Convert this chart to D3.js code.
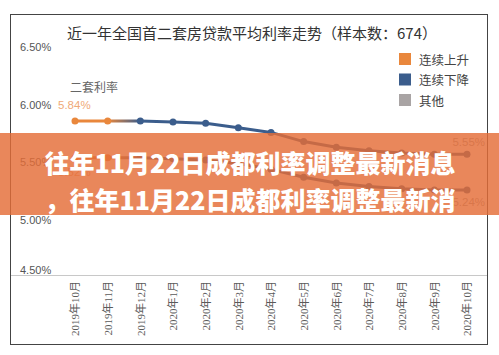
<!DOCTYPE html>
<html><head><meta charset="utf-8">
<script src="https://cdn.jsdelivr.net/npm/d3@7"></script>
<style>html,body{margin:0;padding:0;background:#fff;}svg{display:block;}</style>
</head><body>
<script>
const months = ["2019年10月","2019年11月","2019年12月","2020年1月","2020年2月","2020年3月","2020年4月","2020年5月","2020年6月","2020年7月","2020年8月","2020年9月","2020年10月"];
const secondRate = [5.84,5.84,5.84,5.83,5.82,5.78,5.74,5.66,5.61,5.58,5.56,5.55,5.55];
const firstRate  = [5.52,5.52,5.52,5.51,5.50,5.47,5.42,5.35,5.30,5.27,5.25,5.24,5.24];
const yTicks = [4.5,5.0,5.5,6.0,6.5];
const legendLabels = ["连续上升","连续下降","其他"];
const titleText = "近一年全国首二套房贷款平均利率走势（样本数：674）";
const seriesLabel = "二套利率";
const bannerLines = ["往年11月22日成都利率调整最新消息","，往年11月22日成都利率调整最新消"];

const W = 499, H = 355;
const ORANGE = "#e9873c", BLUE = "#3b5d8c", GRAY = "#a9a4a4";
const legendColors = [ORANGE, BLUE, GRAY];
const CJK = "'Noto Sans CJK SC', 'Noto Sans', sans-serif";

const svg = d3.select("body").append("svg").attr("width", W).attr("height", H);

const x = d3.scalePoint().domain(months).range([75, 467]);
const y = d3.scaleLinear().domain([4.5, 6.5]).range([275, 45]);

// frame
svg.append("rect").attr("x", 10.5).attr("y", 14.5).attr("width", 477).attr("height", 330)
  .attr("fill", "#fff").attr("stroke", "#444").attr("stroke-width", 1);

// title
svg.append("text").attr("x", 252).attr("y", 32).attr("dominant-baseline", "central")
  .attr("text-anchor", "middle").attr("font-family", CJK).attr("font-size", 15)
  .attr("fill", "#333").text(titleText);

// baseline
svg.append("line").attr("x1", 11).attr("x2", 487).attr("y1", y(4.5) + 0.5).attr("y2", y(4.5) + 0.5)
  .attr("stroke", "#c8c8c8").attr("stroke-width", 1);

// y axis labels
const yAxis = svg.append("g").attr("transform", "translate(20,2)")
  .call(d3.axisRight(y).tickValues(yTicks).tickSize(0).tickPadding(0)
    .tickFormat(d => d3.format(".2f")(d) + "%"));
yAxis.select(".domain").remove();
yAxis.selectAll("text").attr("font-family", "'Liberation Sans', Arial, sans-serif")
  .attr("font-size", 11).attr("fill", "#555")
  .attr("dy", d => d === 4.5 ? "-0.35em" : "0.32em");

// x axis labels
const xAxis = svg.append("g").attr("transform", `translate(0,${y(4.5)})`)
  .call(d3.axisBottom(x).tickSize(0).tickPadding(0));
xAxis.select(".domain").remove();
xAxis.selectAll("text").attr("transform", "rotate(-90)").attr("text-anchor", "end")
  .attr("x", -6).attr("y", 0).attr("dy", "0.35em")
  .attr("font-family", "'Liberation Serif', 'Noto Sans CJK SC', serif")
  .attr("font-size", 11).attr("fill", "#5a5a5a");

// gradient
const defs = svg.append("defs");
const grad = defs.append("linearGradient").attr("id", "lg").attr("gradientUnits", "userSpaceOnUse")
  .attr("x1", x(months[1])).attr("x2", x(months[2])).attr("y1", 0).attr("y2", 0);
grad.append("stop").attr("offset", 0).attr("stop-color", ORANGE);
grad.append("stop").attr("offset", 1).attr("stop-color", BLUE);

const line = d3.line().x((d, i) => x(months[i])).y(d => y(d));
[secondRate, firstRate].forEach(series => {
  svg.append("path").datum(series).attr("d", line).attr("fill", "none")
    .attr("stroke", "url(#lg)").attr("stroke-width", 3).attr("stroke-linejoin", "round");
  svg.append("g").selectAll("circle").data(series).join("circle")
    .attr("cx", (d, i) => x(months[i])).attr("cy", d => y(d)).attr("r", 3.5)
    .attr("fill", (d, i) => i <= 1 ? ORANGE : BLUE);
});

// series label
svg.append("text").attr("x", 70).attr("y", 86).attr("dominant-baseline", "central")
  .attr("font-family", CJK).attr("font-size", 12).attr("fill", "#666").text(seriesLabel);

// data labels
const fmt = d => d3.format(".2f")(d) + "%";
const last = months.length - 1;
svg.append("text").attr("x", 58).attr("y", y(secondRate[0]) - 16).attr("dominant-baseline", "central")
  .attr("font-family", "'Liberation Sans', sans-serif").attr("font-size", 11.5).attr("fill", "#f0aa78").text(fmt(secondRate[0]));
svg.append("text").attr("x", 58).attr("y", y(firstRate[0]) + 14).attr("dominant-baseline", "central")
  .attr("font-family", "'Liberation Sans', sans-serif").attr("font-size", 11.5).attr("fill", "#f0aa78").text(fmt(firstRate[0]));
svg.append("text").attr("x", 485).attr("y", y(secondRate[last]) - 12).attr("text-anchor", "end").attr("dominant-baseline", "central")
  .attr("font-family", "'Liberation Sans', sans-serif").attr("font-size", 11.5).attr("fill", "#a0a0a0").text(fmt(secondRate[last]));
svg.append("text").attr("x", 485).attr("y", y(firstRate[last]) + 12).attr("text-anchor", "end").attr("dominant-baseline", "central")
  .attr("font-family", "'Liberation Sans', sans-serif").attr("font-size", 11.5).attr("fill", "#a0a0a0").text(fmt(firstRate[last]));

// legend
const lg = svg.append("g").selectAll("g").data(legendLabels).join("g")
  .attr("transform", (d, i) => `translate(399,${59 + i * 20.5})`);
lg.append("rect").attr("x", 0).attr("y", -6).attr("width", 12).attr("height", 12)
  .attr("fill", (d, i) => legendColors[i]);
lg.append("text").attr("x", 20).attr("y", 0).attr("dominant-baseline", "central")
  .attr("font-family", CJK).attr("font-size", 12.5).attr("fill", "#444").text(d => d);

// banner overlay
svg.append("rect").attr("x", 0).attr("y", 133).attr("width", W).attr("height", 82)
  .attr("fill", "rgb(228,108,55)").attr("opacity", 0.82);
svg.append("g").selectAll("text").data(bannerLines).join("text")
  .attr("x", 250).attr("y", (d, i) => 162 + i * 36.5).attr("text-anchor", "middle")
  .attr("dominant-baseline", "central").attr("font-family", CJK).attr("font-weight", 900)
  .attr("font-size", 25).attr("fill", "#fff").text(d => d);
</script>
</body></html>
